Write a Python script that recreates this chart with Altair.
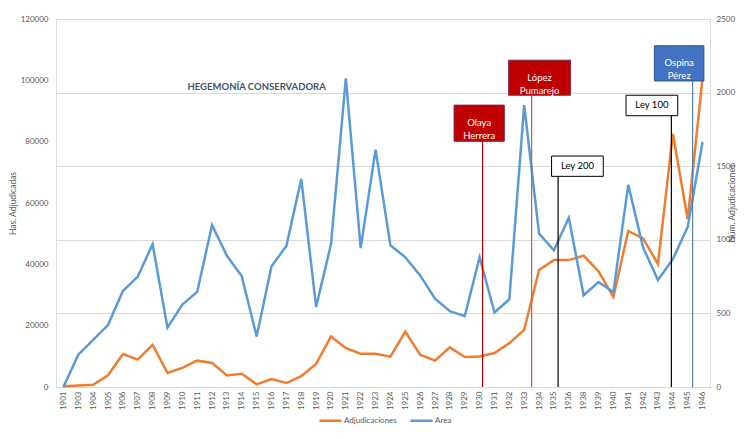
import altair as alt
import pandas as pd

years = [1901, 1903, 1904, 1905, 1906, 1907, 1908, 1909, 1910, 1911, 1912, 1913,
         1914, 1915, 1916, 1917, 1918, 1919, 1920, 1921, 1922, 1923, 1924, 1925,
         1926, 1927, 1928, 1929, 1930, 1931, 1932, 1933, 1934, 1935, 1936, 1938,
         1939, 1940, 1941, 1942, 1943, 1944, 1945, 1946]

area = [0, 10550, 15400, 20200, 31300, 36000, 46550, 19350, 26900, 31000, 52800, 42800,
        36100, 16450, 39400, 46000, 67850, 26100, 46550, 100650, 45300, 77400, 46200, 42300,
        36400, 28800, 24700, 23100, 42300, 24300, 28600, 91900, 50000, 44600, 55200, 29900,
        34200, 31000, 65900, 45500, 34900, 41700, 52200, 79900]

adjudicaciones = [5, 10, 15, 80, 224, 186, 287, 96, 130, 179, 163, 79,
                  90, 18, 54, 27, 74, 157, 343, 264, 226, 226, 206, 376,
                  220, 179, 269, 204, 208, 231, 298, 388, 795, 862, 862, 892,
                  786, 612, 1060, 1010, 835, 1720, 1140, 2100]

series_names = ["Adjudicaciones", "Area"]
series_colors = ["#ED7D31", "#5B9BD5"]

hegemonia_label = ["HEGEMONÍA CONSERVADORA"]
hegemonia_x = [13.0]
hegemonia_y = [2036]

ann_labels = ["Olaya\nHerrera", "López\nPumarejo", "Ley 200", "Ley 100", "Ospina\nPérez"]
ann_line_x = [28.2, 31.5, 33.28, 40.9, 42.33]
ann_x1 = [26.28, 29.95, 32.84, 37.85, 39.76]
ann_x2 = [29.66, 34.12, 36.32, 41.33, 43.09]
ann_top = [1915, 2220, 1569, 1982, 2318]
ann_bottom = [1669, 1982, 1431, 1843, 2079]

styles = [
    dict(fill="#C00000", stroke="#7B2C4A", text="#FFFFFF", rule="#C00000"),
    dict(fill="#C00000", stroke="#7B2C4A", text="#FFFFFF", rule="#C55A5A"),
    dict(fill="#FFFFFF", stroke="#000000", text="#000000", rule="#000000"),
    dict(fill="#FFFFFF", stroke="#000000", text="#000000", rule="#000000"),
    dict(fill="#4472C4", stroke="#2F528F", text="#FFFFFF", rule="#5B7FA6"),
]

idx = list(range(len(years)))
df_area = pd.DataFrame({"i": idx, "year": years, "value": area, "serie": "Area"})
df_adj = pd.DataFrame({"i": idx, "year": years, "value": adjudicaciones, "serie": "Adjudicaciones"})
df_ann = pd.DataFrame({"label": ann_labels, "lx": ann_line_x, "x1": ann_x1, "x2": ann_x2,
                       "top": ann_top, "bottom": ann_bottom, "k": list(range(len(ann_labels)))})
df_heg = pd.DataFrame({"label": hegemonia_label, "x": hegemonia_x, "y": hegemonia_y})

label_expr = "[" + ",".join(f"'{y}'" for y in years) + "][datum.value]"
GRAY = "#595959"

xscale = alt.Scale(domain=[-0.5, len(years) - 0.5], nice=False, zero=False)
xaxis = alt.Axis(values=idx, labelExpr=label_expr, labelAngle=-90, ticks=False, grid=False,
                 domainColor="#D9D9D9", labelPadding=4, labelFontSize=8, labelColor=GRAY,
                 title=None, labelOverlap=False, labelFlush=False)
yright = alt.Scale(domain=[0, 2500], nice=False, zero=True)

color_scale = alt.Scale(domain=series_names, range=series_colors)
legend = alt.Legend(orient="none", legendX=262, legendY=389, direction="horizontal",
                    symbolType="stroke", symbolStrokeWidth=2.5, symbolSize=484,
                    labelFontSize=8, labelColor=GRAY, title=None, columnPadding=8,
                    labelOffset=1)

adj_line = alt.Chart(df_adj).mark_line(strokeWidth=2.5).encode(
    x=alt.X("i:Q", scale=xscale, axis=xaxis),
    y=alt.Y("value:Q", scale=yright,
            axis=alt.Axis(orient="right", values=[0, 500, 1000, 1500, 2000, 2500], grid=True,
                          gridColor="#D9D9D9", domain=False, ticks=False, labelPadding=6,
                          labelFontSize=8, labelColor=GRAY, title="Núm. Adjudicaciones",
                          titleAngle=270, titleFontSize=8.5, titleFontWeight="normal",
                          titleColor=GRAY, titlePadding=2, format="d")),
    color=alt.Color("serie:N", scale=color_scale, legend=legend),
)

area_line = alt.Chart(df_area).mark_line(strokeWidth=2.5).encode(
    x=alt.X("i:Q", scale=xscale, axis=xaxis),
    y=alt.Y("value:Q", scale=alt.Scale(domain=[0, 120000], nice=False),
            axis=alt.Axis(orient="left", values=list(range(0, 120001, 20000)), grid=False,
                          domain=False, ticks=False, labelPadding=8, labelFontSize=8,
                          labelColor=GRAY, title="Has. Adjudicadas", titleFontSize=8.5,
                          titleFontWeight="normal", titleColor=GRAY, titlePadding=3,
                          format="d")),
    color=alt.Color("serie:N", scale=color_scale, legend=legend),
)

heg = alt.Chart(df_heg).mark_text(fontSize=9.5, fontWeight="bold", color="#44546A").encode(
    x=alt.X("x:Q", scale=xscale, axis=xaxis),
    y=alt.Y("y:Q", scale=yright, axis=None),
    text="label:N",
)

layers = [adj_line, area_line, heg]
for k, st in enumerate(styles):
    base = alt.Chart(df_ann).transform_filter(alt.datum.k == k)
    rule = base.mark_rule(color=st["rule"], strokeWidth=1.2).encode(
        x=alt.X("lx:Q", scale=xscale, axis=xaxis),
        y=alt.Y("zero:Q", scale=yright, axis=None),
        y2="bottom:Q",
    ).transform_calculate(zero="0")
    box = base.mark_rect(fill=st["fill"], stroke=st["stroke"], strokeWidth=1).encode(
        x=alt.X("x1:Q", scale=xscale, axis=xaxis),
        x2="x2:Q",
        y=alt.Y("bottom:Q", scale=yright, axis=None),
        y2="top:Q",
    )
    txt = base.mark_text(color=st["text"], fontSize=9.5, lineBreak="\n", lineHeight=13,
                         baseline="middle").encode(
        x=alt.X("cx:Q", scale=xscale, axis=xaxis),
        y=alt.Y("cy:Q", scale=yright, axis=None),
        text="label:N",
    ).transform_calculate(cx="(datum.x1 + datum.x2) / 2", cy="(datum.top + datum.bottom) / 2")
    layers += [rule, box, txt]

chart = alt.layer(*layers).resolve_scale(y="independent").properties(
    width=654, height=368,
    padding={"left": 48, "top": 11, "right": 34, "bottom": 40},
    autosize=alt.AutoSizeParams(type="none"),
).configure_view(stroke=None).configure(font="Lato")

chart.save("out.html", embed_options={"renderer": "svg", "actions": False})
